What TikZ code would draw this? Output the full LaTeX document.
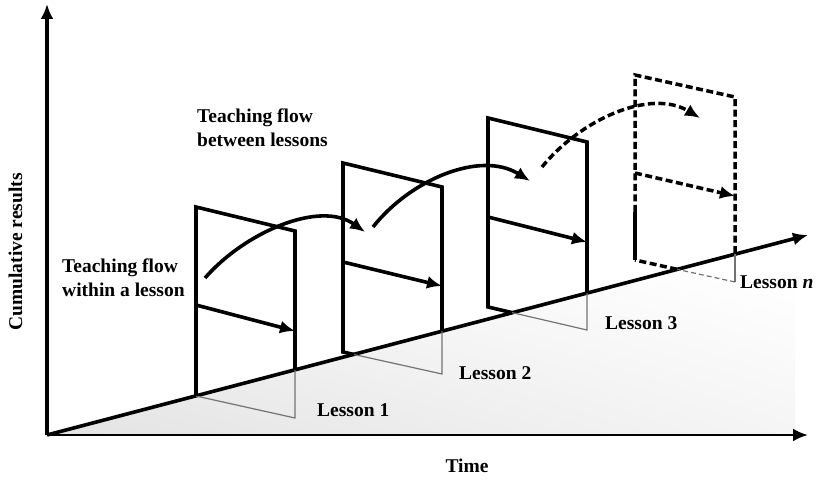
\documentclass[tikz,border=0pt]{standalone}
\usepackage{fontspec}
\setmainfont{Liberation Serif}
\usetikzlibrary{arrows.meta,shadings}
\begin{document}
\begin{tikzpicture}[x=1pt,y=-1pt,
  thk/.style={line width=3.6pt},
  thin/.style={line width=1.2pt, draw=black!55},
  dsh/.style={line width=3.5pt, dash pattern=on 7pt off 3.5pt},
  tip/.style={-{Latex[length=15pt,width=13pt]}},
  axisarrow/.style={thk,tip},
  flowarrow/.style={line width=3.6pt,tip},
  lbl/.style={font=\fontsize{19.5}{24}\selectfont\bfseries, inner sep=0pt, align=left}]
\useasboundingbox (0,0) rectangle (828,486);
% ground shading
\shade[lower left=black!11, lower right=black!4, upper left=black!5, upper right=white]
  (47,435) -- (636,280) -- (795,280) -- (795,435) -- cycle;
% axes
\coordinate (O) at (47,435);
\coordinate (Ytip) at (47,4);
\coordinate (Xtip) at (808,435);
\coordinate (Dtip) at (808,235);
\draw[axisarrow] (O) -- (Ytip);
\draw[line width=2.6pt,tip] (O) -- (Xtip);
\draw[axisarrow] (O) -- (Dtip);
% ---- Lesson 1
\coordinate (a1) at (196,207); \coordinate (b1) at (295,231);
\coordinate (c1) at (295,370); \coordinate (d1) at (295,418);
\coordinate (e1) at (196,396);
\draw[thin] (c1) -- (d1) -- (e1);
\draw[thk, line join=miter] (e1) -- (a1) -- (b1) -- (c1);
\coordinate (w1s) at (196,305); \coordinate (w1e) at (295,331);
\draw[flowarrow] (w1s) -- (w1e);
% ---- Lesson 2
\coordinate (a2) at (343,163); \coordinate (b2) at (442,187);
\coordinate (c2) at (442,331); \coordinate (d2) at (442,374);
\coordinate (e2) at (343,352); \coordinate (f2) at (354,354.5);
\draw[thin] (c2) -- (d2) -- (f2);
\draw[thk, line join=miter] (f2) -- (e2) -- (a2) -- (b2) -- (c2);
\coordinate (w2s) at (343,262); \coordinate (w2e) at (442,286);
\draw[flowarrow] (w2s) -- (w2e);
% ---- Lesson 3
\coordinate (a3) at (488,118); \coordinate (b3) at (587,142);
\coordinate (c3) at (587,293); \coordinate (d3) at (587,330);
\coordinate (e3) at (488,307); \coordinate (f3) at (512,312.6);
\draw[thin] (c3) -- (d3) -- (f3);
\draw[thk, line join=miter] (f3) -- (e3) -- (a3) -- (b3) -- (c3);
\coordinate (w3s) at (488,217); \coordinate (w3e) at (587,242);
\draw[flowarrow] (w3s) -- (w3e);
% ---- Lesson n (dashed)
\coordinate (a4) at (635,75); \coordinate (b4) at (735,97);
\coordinate (c4) at (735,254); \coordinate (d4) at (735,282);
\coordinate (e4) at (635,260); \coordinate (f4) at (677,269.3);
\coordinate (g4) at (635,212);
\draw[thin] (c4) -- (d4);
\draw[thin, dash pattern=on 5pt off 3pt] (d4) -- (f4);
\draw[dsh] (f4) -- (e4);
\draw[thk] (e4) -- (g4);
\draw[dsh] (g4) -- (a4) -- (b4) -- (c4);
\coordinate (w4s) at (635,173); \coordinate (w4e) at (735,196);
\draw[dsh,tip] (w4s) -- (w4e);
% ---- between-lesson arrows
\coordinate (t1s) at (205,278); \coordinate (t1e) at (365,232);
\draw[flowarrow] (t1s) .. controls (245,232) and (320,200) .. (t1e);
\coordinate (t2s) at (373,227); \coordinate (t2e) at (530,181);
\draw[flowarrow] (t2s) .. controls (410,180) and (480,150) .. (t2e);
\coordinate (t3s) at (542,167); \coordinate (t3e) at (700,118);
\draw[dsh,tip] (t3s) .. controls (580,120) and (650,88) .. (t3e);
% ---- labels
\node[lbl, anchor=base west] (between) at (197,147) {Teaching flow\\between lessons};
\node[lbl, anchor=base west] (within) at (62,297) {Teaching flow\\within a lesson};
\node[lbl, anchor=base, rotate=90] (ylab) at (22,252) {Cumulative results};
\node[lbl, anchor=base] (xlab) at (467,472) {Time};
\node[lbl, anchor=base west] (L1) at (317,417) {Lesson 1};
\node[lbl, anchor=base west] (L2) at (459,380) {Lesson 2};
\node[lbl, anchor=base west] (L3) at (605,330) {Lesson 3};
\node[lbl, anchor=base west] (Ln) at (740,289) {Lesson \textit{n}};
\end{tikzpicture}
\end{document}
